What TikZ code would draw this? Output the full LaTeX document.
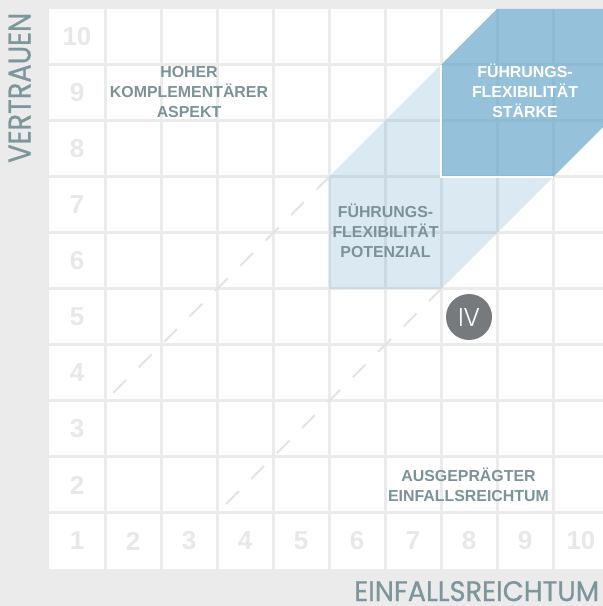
\documentclass[tikz,border=0pt]{standalone}
\usepackage{fontspec}
\setmainfont{Liberation Sans}
\IfFontExistsTF{Poppins}{\newfontfamily\axisfont{Poppins}[FakeBold=0.8]}{\newfontfamily\axisfont{Lato}[FakeBold=0.8]}
\IfFontExistsTF{Poppins Light}{\newfontfamily\ivfont{Poppins Light}}{%
  \IfFontExistsTF{Lato Light}{\newfontfamily\ivfont{Lato Light}}{\newfontfamily\ivfont{Lato}}}
\definecolor{bggray}{RGB}{235,235,235}
\definecolor{numgray}{RGB}{232,232,232}
\definecolor{dashgray}{RGB}{228,228,228}
\definecolor{labelteal}{RGB}{124,146,152}
\definecolor{axisteal}{RGB}{125,150,156}
\definecolor{circgray}{RGB}{118,122,124}
\definecolor{bluebase}{RGB}{86,156,196}
\tikzset{
  gridline/.style={draw=bggray, line width=3pt},
  numstyle/.style={text=numgray, inner sep=0pt, font=\bfseries\fontsize{26}{26}\selectfont},
  dashline/.style={draw=dashgray, line width=2pt, dash pattern=on 18pt off 17.9pt},
  lbl/.style={text=labelteal, inner sep=0pt, align=center, font=\bfseries\fontsize{15.9}{20}\selectfont},
  axislbl/.style={text=axisteal, inner sep=0pt, font=\axisfont},
}
\begin{document}
\begin{tikzpicture}[x=1pt,y=1pt]
\useasboundingbox (0,0) rectangle (603,606);
\clip (0,0) rectangle (603,606);
\fill[bggray] (0,0) rectangle (603,606);
\begin{scope}[shift={(49,37)}, x=56pt, y=56pt]
  \fill[white] (0,0) rectangle (10,10);
  \foreach \i in {1,...,9} {
    \draw[gridline] (\i,0) -- (\i,10);
    \draw[gridline] (0,\i) -- (10,\i);
  }
  % numbers
  \foreach \n in {1,...,10} {
    \node[numstyle] (row\n) at (0.5,\n-0.5) {\n};
  }
  \foreach \n in {2,...,10} {
    \node[numstyle] (col\n) at (\n-0.5,0.5) {\n};
  }
  % dashed diagonals
  \coordinate (ua) at (1.15,3.15);
  \coordinate (ub) at (5,7);
  \coordinate (la) at (3.16,1.16);
  \coordinate (lb) at (7,5);
  \draw[dashline] (ua) -- (ub);
  \draw[dashline] (la) -- (lb);
  % light band
  \fill[bluebase, opacity=0.21] (5,5) -- (7,5) -- (9,7) -- (7,7) -- (7,9) -- (5,7) -- cycle;
  % dark band
  \fill[bluebase, opacity=0.62] (7,7) -- (9,7) -- (12,10) -- (8,10) -- (7,9) -- cycle;
  \draw[white, line width=2pt] (7,9) -- (7,7) -- (9,7);
  % circle
  \node[circle, fill=circgray, minimum size=46pt, inner sep=0pt, text=white, font=\ivfont] (iv) at (7.5,4.5) {\resizebox{22pt}{18pt}{IV}};
\end{scope}
\node[lbl] (hoher) at (189,513.5) {HOHER\\KOMPLEMENTÄRER\\ASPEKT};
\node[lbl, text=white] (staerke) at (525,515) {FÜHRUNGS-\\FLEXIBILITÄT\\STÄRKE};
\node[lbl] (potenzial) at (385.5,375) {FÜHRUNGS-\\FLEXIBILITÄT\\POTENZIAL};
\node[lbl] (ausgepraegt) at (468.5,121.5) {AUSGEPRÄGTER\\EINFALLSREICHTUM};
\node[axislbl, anchor=south west, rotate=90] (yaxis) at (31,443) {\resizebox{150pt}{22pt}{VERTRAUEN}};
\node[axislbl, anchor=south west] (xaxis) at (354,4.5) {\resizebox{245pt}{20pt}{EINFALLSREICHTUM}};
\end{tikzpicture}
\end{document}
